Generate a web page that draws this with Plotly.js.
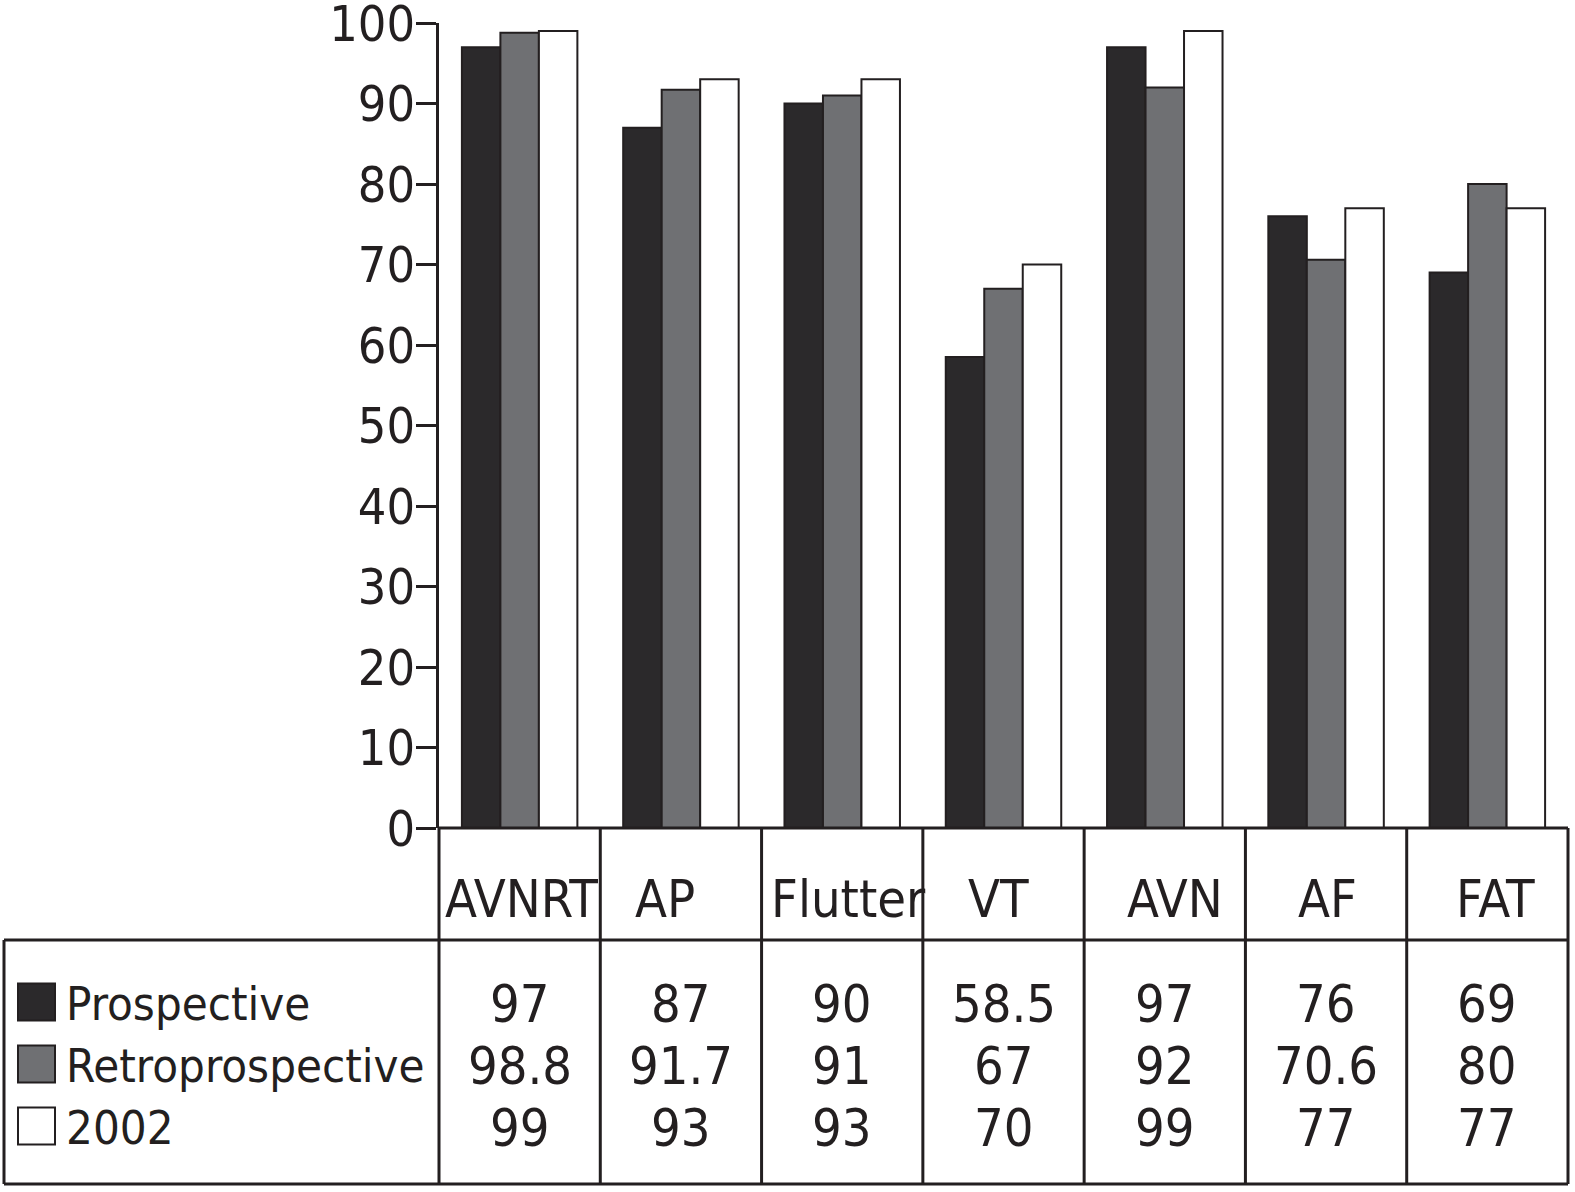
<!DOCTYPE html>
<html>
<head>
<meta charset="utf-8">
<script src="https://cdn.plot.ly/plotly-3.0.1.min.js"></script>
<style>
html,body{margin:0;padding:0;background:#fff;}
#chart{width:1575px;height:1192px;}
</style>
</head>
<body>
<div id="chart"></div>
<script>
// ---- data ----
const categories = ["AVNRT", "AP", "Flutter", "VT", "AVN", "AF", "FAT"];
const seriesNames = ["Prospective", "Retroprospective", "2002"];
const prospective = [97, 87, 90, 58.5, 97, 76, 69];
const retroprospective = [98.8, 91.7, 91, 67, 92, 70.6, 80];
const y2002 = [99, 93, 93, 70, 99, 77, 77];
const yTicks = [0, 10, 20, 30, 40, 50, 60, 70, 80, 90, 100];

// ---- styling / layout helpers ----
const FONT = "'Liberation Sans Narrow', 'Arial Narrow', 'DejaVu Sans Condensed', sans-serif";
const INK = "#231f20";
const colors = ["#2b292b", "#6f7073", "#ffffff"];
const W = 1575, H = 1192;
const L = 439, R = 1568, T = 23, B = 828;
const xp = px => (px - L) / (R - L);
const yp = py => (B - py) / (B - T);
const labelShift = [2, -16, 6, -5, 10, 1, 8];
const rowY = [1002, 1064, 1126];

const allSeries = [prospective, retroprospective, y2002];
const traces = allSeries.map((vals, i) => ({
  type: "bar",
  x: categories,
  y: vals,
  name: seriesNames[i],
  marker: {color: colors[i], line: {color: INK, width: 2}},
  hoverinfo: "x+y+name"
}));

const shapes = [];
const lw = 3;
function line(x0, y0, x1, y1) {
  shapes.push({type: "line", xref: "paper", yref: "paper",
    x0: xp(x0), y0: yp(y0), x1: xp(x1), y1: yp(y1),
    line: {color: INK, width: lw}});
}
const slot = (R - L) / categories.length;
// horizontal table lines
line(L, B, R, B);
line(4, 940, R, 940);
line(4, 1184, R, 1184);
// vertical table lines
line(4, 940, 4, 1184);
for (let i = 0; i <= categories.length; i++) {
  line(L + i * slot, B, L + i * slot, 1184);
}
// legend swatches
rowY.forEach((cy, i) => {
  shapes.push({type: "rect", xref: "paper", yref: "paper",
    x0: xp(18), x1: xp(55), y0: yp(cy - 18.5), y1: yp(cy + 18.5),
    fillcolor: colors[i], line: {color: INK, width: 2}});
});

const annotations = [];
categories.forEach((c, i) => {
  annotations.push({xref: "x", yref: "paper", x: c, y: yp(899),
    text: c, showarrow: false, xanchor: "center", yanchor: "middle",
    xshift: labelShift[i], font: {family: FONT, size: 52, color: INK}});
  allSeries.forEach((vals, j) => {
    annotations.push({xref: "x", yref: "paper", x: c, y: yp(rowY[j] + 2),
      text: String(vals[i]), showarrow: false, xanchor: "center", yanchor: "middle",
      font: {family: FONT, size: 52, color: INK}});
  });
});
seriesNames.forEach((n, j) => {
  annotations.push({xref: "paper", yref: "paper", x: xp(64), y: yp(rowY[j] + 1),
    text: n, showarrow: false, xanchor: "left", yanchor: "middle",
    font: {family: FONT, size: 47, color: INK}});
});

const layout = {
  width: W, height: H,
  margin: {l: L, r: W - R, t: T, b: H - B, pad: 0},
  paper_bgcolor: "#fff", plot_bgcolor: "#fff",
  showlegend: false,
  barmode: "group",
  bargap: 0.284,
  bargroupgap: 0,
  font: {family: FONT, color: INK},
  xaxis: {type: "category", showticklabels: false, ticks: "", showgrid: false,
    zeroline: false, showline: false, fixedrange: true},
  yaxis: {range: [0, 100], tickvals: yTicks, ticktext: yTicks.map(String),
    showgrid: false, zeroline: false, showline: true, linecolor: INK, linewidth: 3,
    ticks: "outside", ticklen: 20, tickwidth: 3, tickcolor: INK,
    ticklabelstandoff: -9, ticklabeloverflow: "allow",
    tickfont: {family: FONT, size: 50, color: INK}, fixedrange: true},
  shapes: shapes,
  annotations: annotations
};

Plotly.newPlot("chart", traces, layout, {displayModeBar: false, staticPlot: true});
</script>
</body>
</html>
